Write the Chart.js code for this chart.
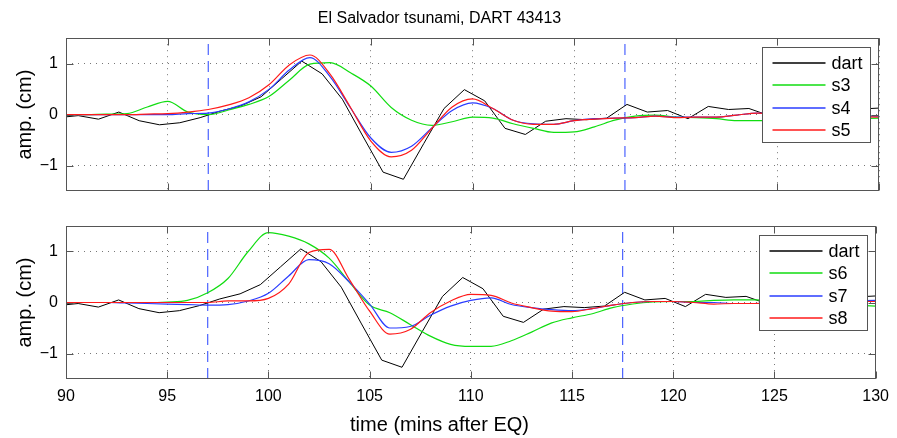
<!DOCTYPE html>
<html>
<head>
<meta charset="utf-8">
<title>El Salvador tsunami, DART 43413</title>
<script src="https://cdn.jsdelivr.net/npm/chart.js@4.4.1/dist/chart.umd.min.js"></script>
<style>
  html, body { margin: 0; padding: 0; background: #fff; }
  #wrap { position: relative; width: 897px; height: 438px; }
  canvas { position: absolute; left: 0; }
  #top-chart { top: 0; }
  #bottom-chart { top: 200px; }
</style>
</head>
<body>
<div id="wrap">
  <canvas id="top-chart" width="897" height="200"></canvas>
  <canvas id="bottom-chart" width="897" height="238"></canvas>
</div>
<script>
// -------- DATA -------- //

// DART gauge record (sampled every minute)
const dartTimes = [89.6, 90.6, 91.6, 92.6, 93.6, 94.6, 95.6, 96.6, 97.6, 98.6, 99.6, 100.6, 101.6, 102.6,
  103.6, 104.6, 105.6, 106.6, 107.6, 108.6, 109.6, 110.6, 111.6, 112.6, 113.6, 114.6, 115.6, 116.6, 117.6,
  118.6, 119.6, 120.6, 121.6, 122.6, 123.6, 124.6, 125.6, 126.6, 127.6, 128.6, 129.6, 130.6];
const dart = [-0.06, -0.02, -0.09, 0.05, -0.12, -0.2, -0.16, -0.06, 0.07, 0.17, 0.35, 0.7, 1.05, 0.8,
  0.3, -0.42, -1.13, -1.27, -0.57, 0.12, 0.49, 0.27, -0.27, -0.39, -0.13, -0.08, -0.1, -0.07, 0.2,
  0.05, 0.08, -0.08, 0.16, 0.1, 0.12, -0.02, 0.05, 0.0, 0.08, 0.1, 0.12, 0.14];

// model runs
const modelTimes = [90, 91, 92, 93, 94, 95, 96, 97, 98, 99, 100, 101, 102, 103, 104, 105, 106, 107, 108, 109,
  110, 111, 112, 113, 114, 115, 116, 117, 118, 119, 120, 121, 122, 123, 124, 125, 126, 127, 128, 129, 130];

const s3 = [0, 0, 0.01, 0.02, 0.15, 0.26, 0.05, 0, 0.09, 0.2, 0.36, 0.68, 0.99, 1.02, 0.82, 0.56, 0.14, -0.11,
  -0.21, -0.14, -0.05, -0.07, -0.18, -0.27, -0.35, -0.34, -0.24, -0.11, -0.03, -0.01, -0.05, -0.06, -0.08,
  -0.12, -0.12, -0.12, -0.11, -0.1, -0.09, -0.08, -0.07];
const s4 = [0, 0, 0, 0, 0, 0, 0.02, 0.03, 0.11, 0.25, 0.5, 0.88, 1.12, 0.74, 0.13, -0.46, -0.74, -0.62,
  -0.26, 0.08, 0.23, 0.12, -0.11, -0.18, -0.19, -0.12, -0.08, -0.07, -0.06, -0.03, -0.05, -0.05, -0.05,
  -0.01, 0.03, 0.02, 0, -0.01, -0.02, -0.03, -0.03];
const s5 = [0, 0, 0, 0, 0.01, 0.02, 0.05, 0.1, 0.19, 0.33, 0.59, 0.98, 1.17, 0.79, 0.14, -0.52, -0.83, -0.7,
  -0.27, 0.15, 0.31, 0.12, -0.11, -0.19, -0.19, -0.12, -0.09, -0.07, -0.06, -0.03, -0.06, -0.05, -0.05,
  -0.01, 0.03, 0.02, 0, -0.02, -0.03, -0.04, -0.05];

const s6 = [0, 0, 0, 0, 0, 0.01, 0.04, 0.19, 0.47, 1.0, 1.37, 1.3, 1.15, 0.87, 0.4, -0.05, -0.2, -0.43,
  -0.66, -0.82, -0.86, -0.86, -0.75, -0.58, -0.4, -0.3, -0.22, -0.1, -0.03, 0.01, 0.02, 0.02, 0.04,
  0.05, 0.05, 0.04, 0.02, 0, -0.03, -0.05, -0.07];
const s7 = [0, 0, 0, -0.01, -0.02, -0.03, -0.04, -0.05, -0.04, 0.03, 0.18, 0.52, 0.84, 0.76, 0.4, -0.03,
  -0.5, -0.47, -0.25, -0.07, 0.04, 0.09, -0.04, -0.1, -0.14, -0.16, -0.12, -0.05, 0, 0.02, 0.02, 0, 0,
  -0.02, -0.02, -0.01, 0, 0.01, 0.02, 0.03, 0.04];
const s8 = [0, 0, 0, 0, 0, 0, 0, 0, 0.03, 0.03, 0.08, 0.36, 0.98, 1.04, 0.45, -0.17, -0.62, -0.53, -0.2,
  0.03, 0.16, 0.14, -0.01, -0.1, -0.17, -0.18, -0.12, -0.05, 0, 0.02, 0.02, 0, -0.03, -0.02, -0.02,
  -0.01, 0, 0.01, 0.01, 0.02, 0.02];

// arrival window markers (minutes)
const markerTimes = [97, 117.5];
const yTicks = [-1, 0, 1];

// -------- STYLE -------- //

const FONT = "'Liberation Sans', Arial, Helvetica, sans-serif";
const BLACK = '#000000';
const GREEN = '#11dd11';
const BLUE = '#2a3cff';
const RED = '#ff1a1a';
const FRAME = '#555555';

function toPoints(xs, ys) {
  return xs.map((x, i) => ({ x: x, y: ys[i] }));
}

function series(label, xs, ys, color, order, smooth) {
  return {
    label: label,
    data: toPoints(xs, ys),
    borderColor: color,
    borderWidth: label === 'dart' ? 1 : 1.2,
    pointRadius: 0,
    fill: false,
    order: order,
    tension: 0,
    cubicInterpolationMode: smooth ? 'monotone' : 'default'
  };
}

function markerLines() {
  return markerTimes.map(t => ({
    data: [{ x: t, y: -1.5 }, { x: t, y: 1.5 }],
    borderColor: '#4a62ff',
    borderWidth: 1.2,
    borderDash: [11, 6],
    pointRadius: 0,
    fill: false,
    order: 10
  }));
}

// box, inward tick marks and legend drawn on top, MATLAB style
const frameAndLegend = {
  id: 'frameAndLegend',
  afterDraw(chart) {
    const ctx = chart.ctx;
    const a = chart.chartArea;
    const xs = chart.scales.x;
    const ys = chart.scales.y;
    const L = Math.round(a.left) + 0.5, R = Math.round(a.right) - 0.5;
    const T = Math.round(a.top) + 0.5, B = Math.round(a.bottom) - 0.5;
    const tl = 7;

    ctx.save();
    ctx.strokeStyle = FRAME;
    ctx.lineWidth = 1;
    ctx.setLineDash([]);
    ctx.strokeRect(L, T, R - L, B - T);

    ctx.beginPath();
    xs.ticks.forEach(t => {
      const px = Math.round(xs.getPixelForValue(t.value)) + 0.5;
      ctx.moveTo(px, B); ctx.lineTo(px, B - tl);
      ctx.moveTo(px, T); ctx.lineTo(px, T + tl);
    });
    ys.ticks.forEach(t => {
      const py = Math.round(ys.getPixelForValue(t.value)) + 0.5;
      ctx.moveTo(L, py); ctx.lineTo(L + tl, py);
      ctx.moveTo(R, py); ctx.lineTo(R - tl, py);
    });
    ctx.stroke();

    // legend
    const items = chart.data.datasets.filter(d => d.label);
    const bw = 108, bh = 95;
    const bx = Math.round(a.right - 9 - bw) + 0.5;
    const by = Math.round(a.top + 9) + 0.5;
    ctx.fillStyle = '#ffffff';
    ctx.fillRect(bx, by, bw, bh);
    ctx.strokeStyle = FRAME;
    ctx.strokeRect(bx, by, bw, bh);

    ctx.font = '18px ' + FONT;
    ctx.textBaseline = 'middle';
    ctx.textAlign = 'left';
    items.forEach((d, i) => {
      const ly = Math.round(by + 15.5 + i * 22.4);
      ctx.strokeStyle = d.borderColor;
      ctx.lineWidth = 1.5;
      ctx.beginPath();
      ctx.moveTo(bx + 10, ly);
      ctx.lineTo(bx + 63, ly);
      ctx.stroke();
      ctx.fillStyle = BLACK;
      ctx.fillText(d.label, bx + 69, ly + 1);
    });
    ctx.restore();
  }
};

function buildOptions(isBottom) {
  return {
    responsive: false,
    animation: false,
    devicePixelRatio: 1,
    layout: { padding: { left: 0, right: 18, top: isBottom ? 26 : 0, bottom: 0 } },
    plugins: {
      legend: { display: false },
      tooltip: { enabled: false },
      title: {
        display: !isBottom,
        text: 'El Salvador tsunami, DART 43413',
        color: BLACK,
        font: { family: FONT, size: 16, weight: 'normal' },
        padding: { top: 9, bottom: 10 }
      },
      subtitle: {
        display: isBottom,
        position: 'bottom',
        text: 'time (mins after EQ)',
        color: BLACK,
        font: { family: FONT, size: 20, weight: 'normal' },
        padding: { top: 7, bottom: 1 }
      }
    },
    scales: {
      x: {
        type: 'linear',
        min: 90,
        max: 130,
        ticks: {
          display: isBottom,
          stepSize: 5,
          autoSkip: false,
          maxRotation: 0,
          padding: 8,
          color: BLACK,
          font: { family: FONT, size: 16 }
        },
        grid: { color: '#777', lineWidth: 1, drawTicks: false },
        border: { display: false, dash: [1, 5] },
        afterFit: s => { s.height = isBottom ? 27 : 9; }
      },
      y: {
        type: 'linear',
        min: -1.5,
        max: 1.5,
        afterBuildTicks: s => { s.ticks = yTicks.map(v => ({ value: v })); },
        ticks: {
          padding: 8,
          color: BLACK,
          font: { family: FONT, size: 16, lineHeight: 1 },
          callback: v => (v < 0 ? '\u2212' + Math.abs(v) : String(v))
        },
        grid: { color: '#777', lineWidth: 1, drawTicks: false },
        border: { display: false, dash: [1, 5] },
        title: {
          display: true,
          text: 'amp. (cm)',
          color: BLACK,
          font: { family: FONT, size: 20 },
          padding: { top: 13, bottom: 0 }
        },
        afterFit: s => {
          s.width = 66;
          s.paddingTop = 0;
          s.paddingBottom = 0;
        }
      }
    }
  };
}

// -------- TOP PANEL: s3, s4, s5 -------- //

const topCtx = document.getElementById('top-chart');

const topChart = new Chart(topCtx, {
  type: 'line',
  data: {
    datasets: [
      series('dart', dartTimes, dart, BLACK, 4, false),
      series('s3', modelTimes, s3, GREEN, 3, true),
      series('s4', modelTimes, s4, BLUE, 2, true),
      series('s5', modelTimes, s5, RED, 1, true)
    ].concat(markerLines())
  },
  options: buildOptions(false),
  plugins: [frameAndLegend]
});

// -------- BOTTOM PANEL: s6, s7, s8 -------- //

const bottomCtx = document.getElementById('bottom-chart');

const bottomChart = new Chart(bottomCtx, {
  type: 'line',
  data: {
    datasets: [
      series('dart', dartTimes, dart, BLACK, 4, false),
      series('s6', modelTimes, s6, GREEN, 3, true),
      series('s7', modelTimes, s7, BLUE, 2, true),
      series('s8', modelTimes, s8, RED, 1, true)
    ].concat(markerLines())
  },
  options: buildOptions(true),
  plugins: [frameAndLegend]
});
</script>
</body>
</html>
